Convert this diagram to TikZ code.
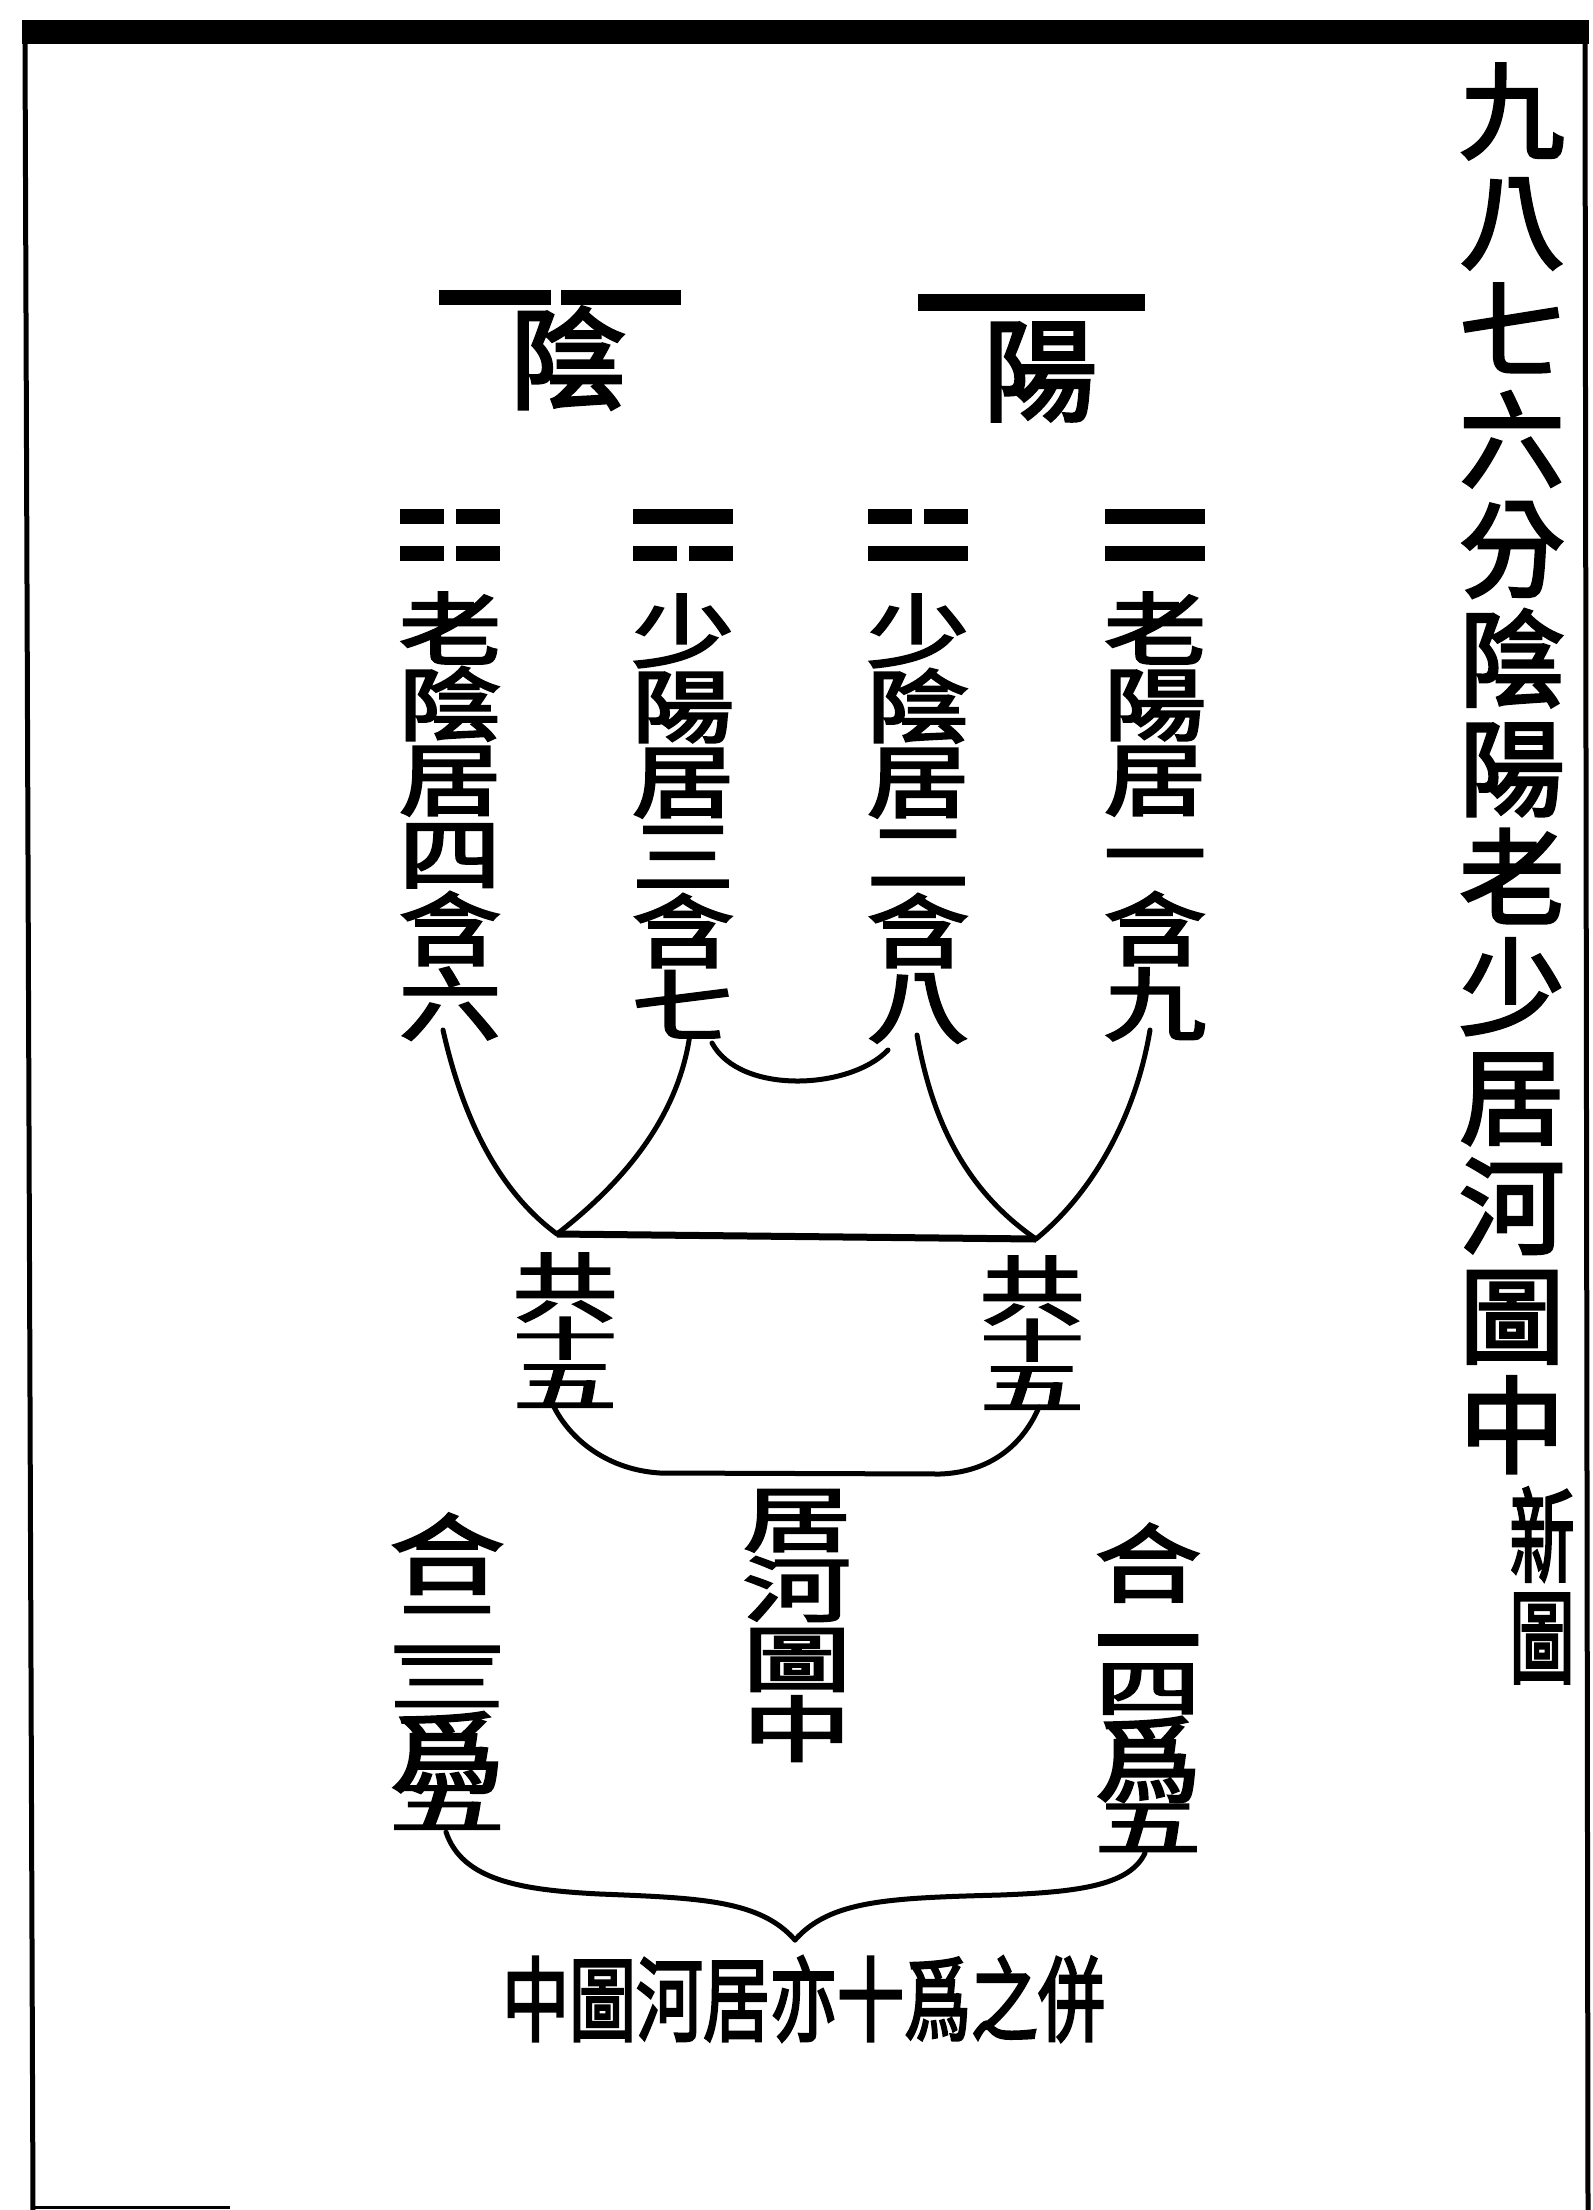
\documentclass[tikz,border=0pt]{standalone}
\usepackage{fontspec}
\newfontfamily\cjk{Noto Sans CJK TC}[FakeBold=3]
\newcommand\cjks[1]{\cjk\fontsize{#1pt}{#1pt}\selectfont}
% one vertical character cell: x-scale, y-scale, char
\newcommand\vch[3]{\hbox to 0pt{\hss\scalebox{#1}[#2]{\rule[-.12em]{0pt}{1em}#3}\hss}}
% uniform vertical column
\newcommand\vlist[4]{\vbox{\offinterlineskip\foreach \vcx in {#4}{\vch{#1}{#2}{\vcx}\kern#3}}}
\begin{document}
\begin{tikzpicture}[x=1pt,y=-1pt,
  vt/.style={inner sep=0pt,outer sep=0pt},
  conn/.style={line width=5pt,line cap=round},
  yaobar/.style={line width=15pt}]
\useasboundingbox (0,0) rectangle (1592,2210);
\fill[white] (0,0) rectangle (1592,2210);
% frame
\fill (22,20) rectangle (1589,44);
\draw[line width=5pt] (25,42) -- (33,2210);
\draw[line width=5pt] (1585,42) -- (1588,2210);
\draw[line width=3pt] (31,2207.5) -- (230,2207.5);

% title column
\node[vt,font=\cjks{105}] (title) at (1512,770) {\vlist{1}{1}{4.5pt}{九,八,七,六,分,陰,陽,老,少,居,河,圖,中}};
\node[vt,font=\cjks{100}] (xintu) at (1542,1585.5) {\vlist{0.65}{1.02}{-0.5pt}{新,圖}};

% yin / yang lines and characters
\draw[yaobar] (439,297) -- (551,297) (561,297) -- (681,297);
\draw[yaobar,line width=17pt] (918,302) -- (1145,302);
\node[vt,font=\cjks{116}] (yin) at (568,358) {\scalebox{1}[0.95]{陰}};
\node[vt,font=\cjks{114}] (yang) at (1040,372) {\scalebox{1}[0.98]{陽}};

% digrams
\draw[yaobar] (400,516) -- (444,516) (456,516) -- (500,516)
              (400,553) -- (444,553) (456,553) -- (500,553);
\draw[yaobar] (633,516) -- (733,516)
              (633,553) -- (677,553) (689,553) -- (733,553);
\draw[yaobar] (868,516) -- (912,516) (924,516) -- (968,516)
              (868,553) -- (968,553);
\draw[yaobar] (1105,516) -- (1205,516)
              (1105,553) -- (1205,553);

% four columns
\node[vt,font=\cjks{102}] (col1) at (450,814) {\vlist{1}{.78}{-4.6pt}{老,陰,居,四,含,六}};
\node[vt,font=\cjks{102}] (col2) at (683,816) {\vlist{1}{.78}{-4.6pt}{少,陽,居,三,含,七}};
\node[vt,font=\cjks{102}] (col3) at (918,816) {\vlist{1}{.78}{-4.6pt}{少,陰,居,二,含,八}};
\node[vt,font=\cjks{102}] (col4) at (1155,814) {\vlist{1}{.78}{-4.6pt}{老,陽,居,一,含,九}};

% connectors
\coordinate (s1) at (443,1030);
\coordinate (s2) at (690,1034);
\coordinate (a1) at (712,1043);
\coordinate (a2) at (888,1050);
\coordinate (s3) at (917,1035);
\coordinate (s4) at (1150,1030);
\coordinate (m1) at (557,1234);
\coordinate (m2) at (1036,1239);
\draw[conn] (s1) .. controls (462,1115) and (497,1190) .. (m1);
\draw[conn] (s2) .. controls (678,1120) and (620,1185) .. (m1);
\draw[conn] (a1) .. controls (740,1095) and (850,1090) .. (a2);
\draw[conn] (s3) .. controls (932,1120) and (965,1190) .. (m2);
\draw[conn] (s4) .. controls (1135,1120) and (1090,1195) .. (m2);
\draw[line width=7pt] (m1) -- (m2);

% gong shi wu (left and right)
\node[vt,font=\cjks{104}] (g1) at (565,1331.06) {\vbox{\offinterlineskip\vch{1}{.72}{共}\kern-9.32pt\vch{1}{.44}{十}\kern-3.44pt\vch{1}{.53}{五}}};
\node[vt,font=\cjks{104}] (g2) at (1032,1333.56) {\vbox{\offinterlineskip\vch{1}{.72}{共}\kern-10.32pt\vch{1}{.44}{十}\kern-3.44pt\vch{1}{.53}{五}}};

\coordinate (u1) at (554,1407);
\coordinate (u2) at (1039,1407);
\draw[conn] (u1) .. controls (572,1442) and (610,1470) .. (660,1473) -- (940,1474) .. controls (995,1472) and (1025,1440) .. (u2);

\node[vt,font=\cjks{108}] (hetu) at (797,1623) {\vlist{1}{.66}{-1.3pt}{居,河,圖,中}};

% he er san wei wu / he yi si wei wu
\node[vt,font=\cjks{115}] (he23) at (447,1672.49) {\vbox{\offinterlineskip\vch{1}{.76}{合}\kern-3.05pt\vch{1}{.58}{二}\kern-10.98pt\vch{1}{.55}{三}\kern-5.98pt\vch{1}{.78}{爲}\kern-19.03pt\vch{1}{.49}{五}}};
\node[vt,font=\cjks{106}] (he14) at (1148,1688.9) {\vbox{\offinterlineskip\vch{1}{.8}{合}\kern-17.4pt\vch{1}{1}{一}\kern-37.77pt\vch{1}{.59}{四}\kern-6.44pt\vch{1}{.89}{爲}\kern-10.91pt\vch{1}{.58}{五}}};

% brace
\coordinate (b1) at (446,1832);
\coordinate (b2) at (1145,1853);
\coordinate (bc) at (795,1940);
\draw[conn] (b1) .. controls (462,1880) and (520,1890) .. (600,1894) .. controls (700,1898) and (760,1900) .. (bc);
\draw[conn] (b2) .. controls (1130,1885) and (1080,1892) .. (1000,1895) .. controls (890,1898) and (830,1900) .. (bc);

\node[vt,font=\cjks{92}] (bot) at (803.5,1999) {\scalebox{0.728}[1]{中圖河居亦十爲之併}};
\end{tikzpicture}
\end{document}
